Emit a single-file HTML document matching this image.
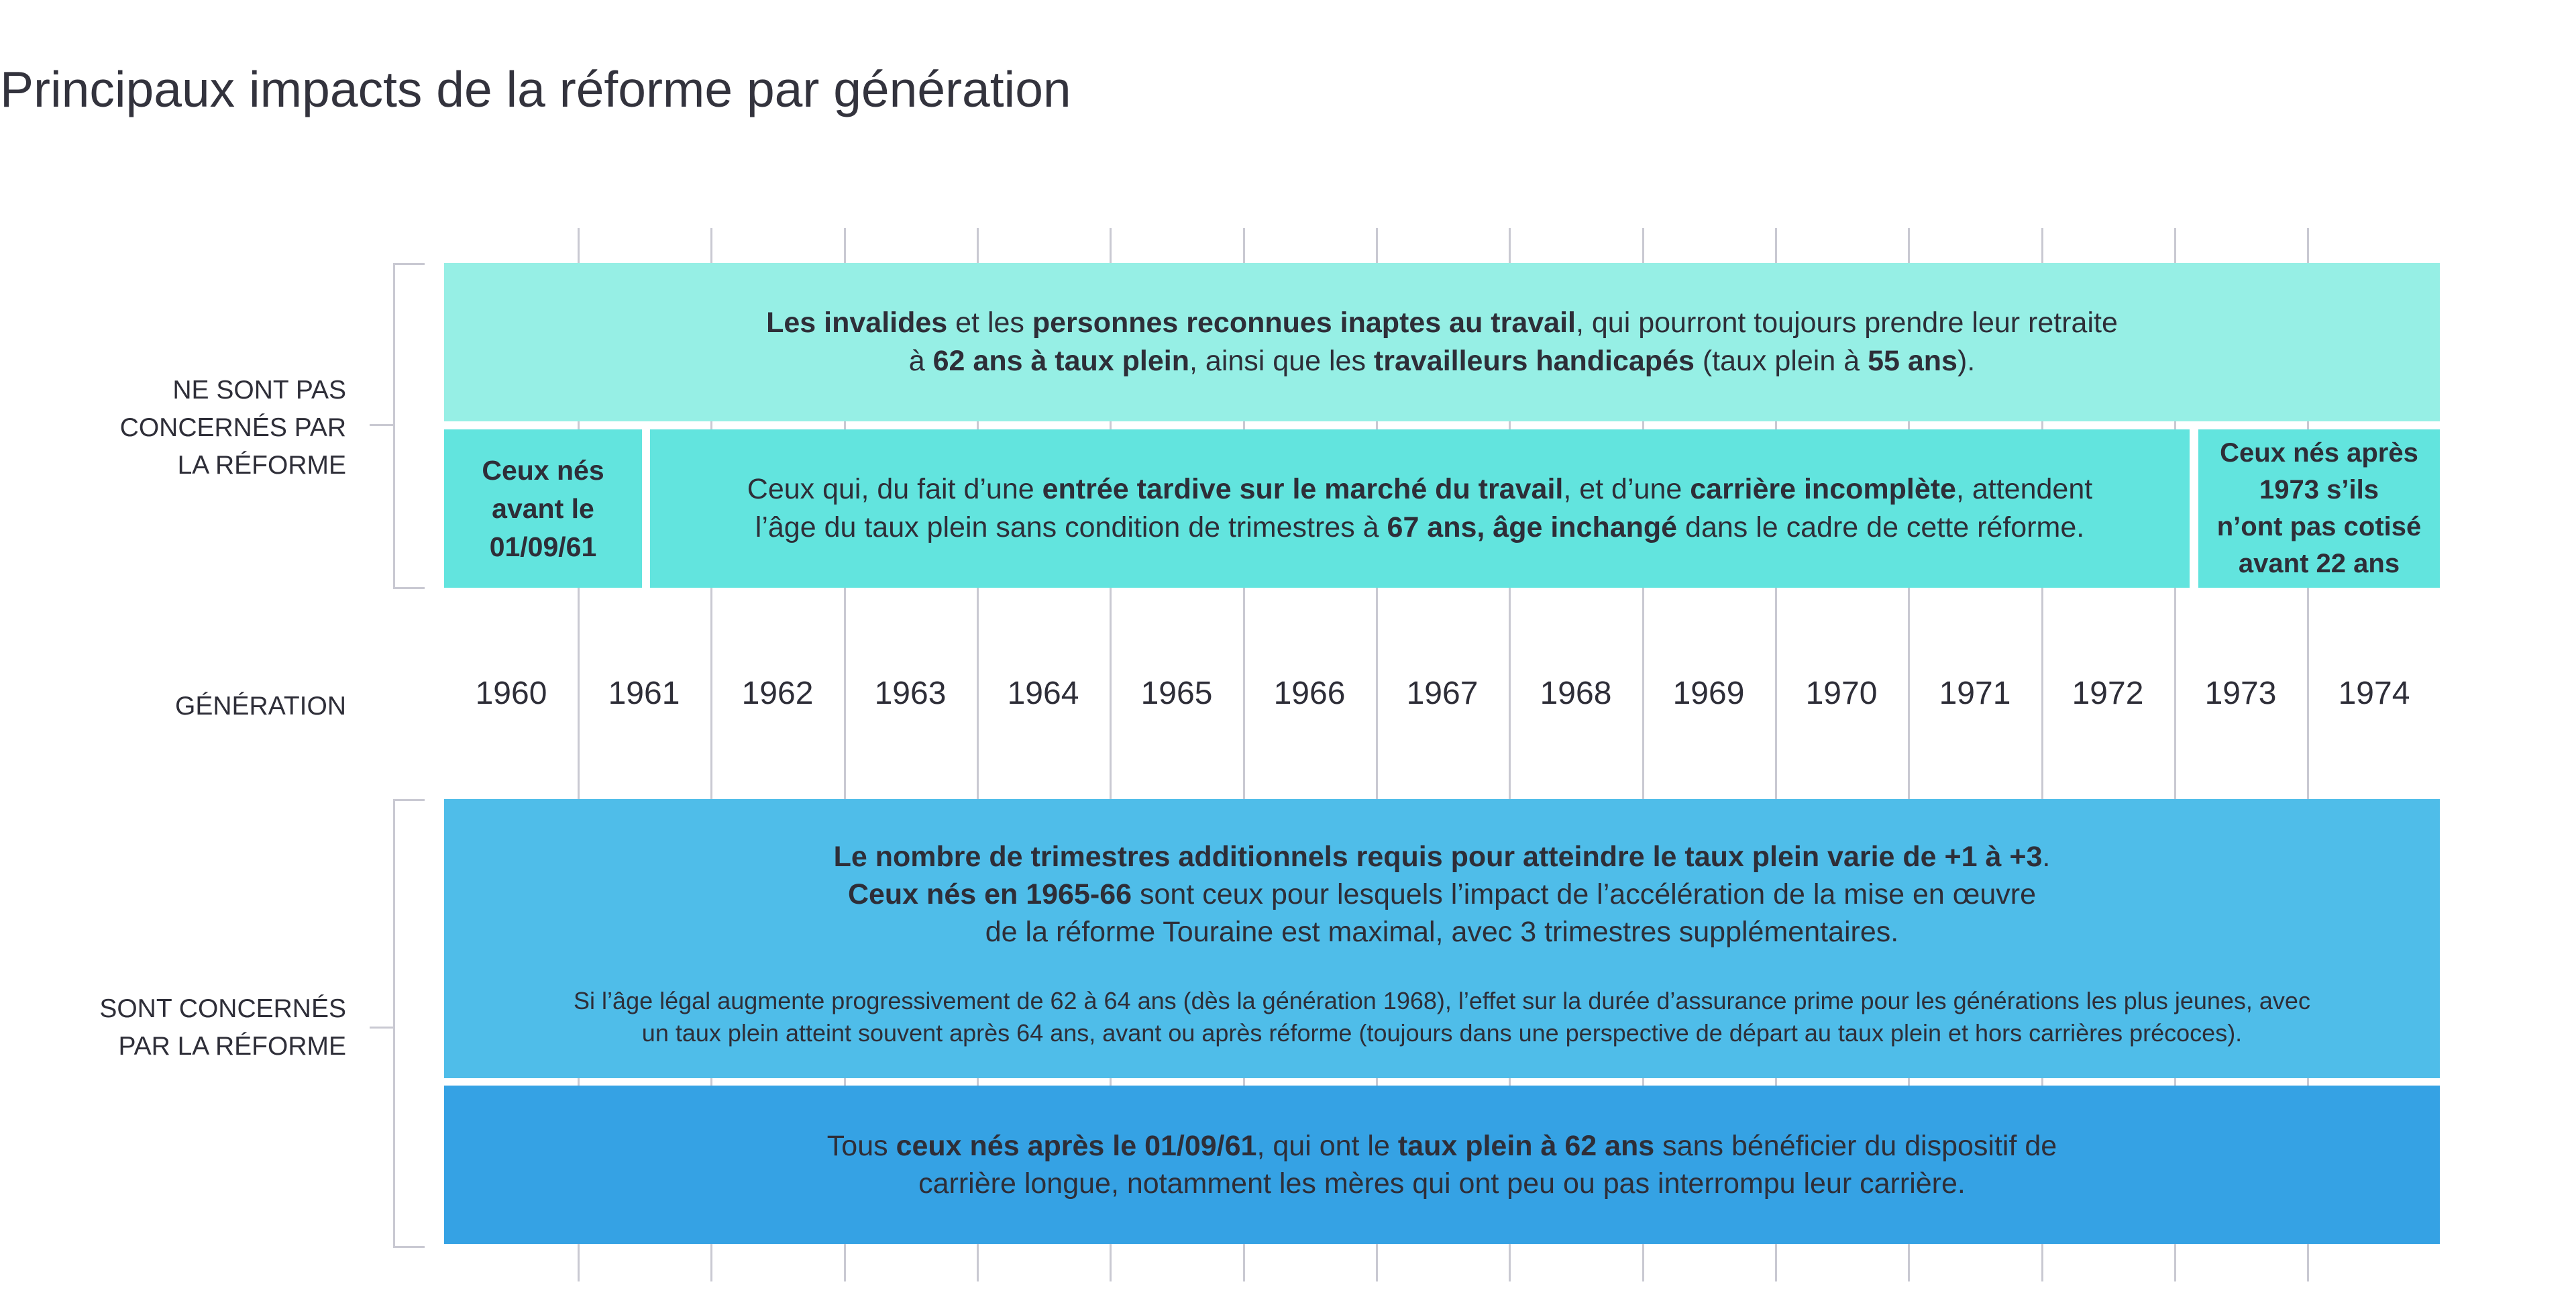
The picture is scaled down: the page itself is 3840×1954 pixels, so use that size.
<!DOCTYPE html>
<html><head><meta charset="utf-8"><style>
body{margin:0;width:3840px;height:1954px;background:#fff;position:relative;overflow:hidden;font-family:"Liberation Sans",sans-serif;color:#2e2e38}
.a{position:absolute}
.g{position:absolute;width:3px;background:#c9c9d2;top:340px;height:1570px}
.box{position:absolute;display:flex;align-items:center;justify-content:center;text-align:center;box-sizing:border-box}
.lbl{position:absolute;right:3324px;text-align:right;font-size:39px;line-height:56px;white-space:nowrap}
.yr{position:absolute;top:1006px;width:198px;text-align:center;font-size:48px}
b{font-weight:bold}
</style></head><body>
<div class="a" style="left:0;top:90px;font-size:75px;white-space:nowrap;color:#33333d">Principaux impacts de la réforme par génération</div>

<div class="g" style="left:861px"></div><div class="g" style="left:1059px"></div><div class="g" style="left:1258px"></div><div class="g" style="left:1456px"></div><div class="g" style="left:1654px"></div><div class="g" style="left:1853px"></div><div class="g" style="left:2051px"></div><div class="g" style="left:2249px"></div><div class="g" style="left:2448px"></div><div class="g" style="left:2646px"></div><div class="g" style="left:2844px"></div><div class="g" style="left:3043px"></div><div class="g" style="left:3241px"></div><div class="g" style="left:3439px"></div>

<div class="a" style="left:586px;top:392px;width:44px;height:480px;border:3px solid #c9c9d2;border-right:none"></div>
<div class="a" style="left:551px;top:632px;width:36px;height:3px;background:#c9c9d2"></div>
<div class="a" style="left:586px;top:1191px;width:44px;height:663px;border:3px solid #c9c9d2;border-right:none"></div>
<div class="a" style="left:551px;top:1530px;width:36px;height:3px;background:#c9c9d2"></div>

<div class="lbl" style="top:554px">NE SONT PAS<br>CONCERNÉS PAR<br>LA RÉFORME</div>
<div class="lbl" style="top:1025px">GÉNÉRATION</div>
<div class="lbl" style="top:1476px">SONT CONCERNÉS<br>PAR LA RÉFORME</div>

<div class="box" style="left:662px;top:392px;width:2975px;height:236px;background:#96efe5;font-size:43px;line-height:57px">
<div>
<b>Les invalides</b> et les <b>personnes reconnues inaptes au travail</b>, qui pourront toujours prendre leur retraite<br>à <b>62 ans à taux plein</b>, ainsi que les <b>travailleurs handicapés</b> (taux plein à <b>55 ans</b>).</div></div>

<div class="box" style="left:662px;top:640px;width:295px;height:236px;background:#62e4de;font-size:41px;line-height:57px;font-weight:bold"><div>Ceux nés<br>avant le<br>01/09/61</div></div>
<div class="box" style="left:969px;top:640px;width:2295px;height:236px;background:#62e4de;font-size:43px;line-height:57px"><div>Ceux qui, du fait d’une <b>entrée tardive sur le marché du travail</b>, et d’une <b>carrière incomplète</b>, attendent<br>l’âge du taux plein sans condition de trimestres à <b>67 ans, âge inchangé</b> dans le cadre de cette réforme.</div></div>
<div class="box" style="left:3277px;top:640px;width:360px;height:236px;background:#62e4de;font-size:40px;line-height:55px;font-weight:bold"><div>Ceux nés après<br>1973 s’ils<br>n’ont pas cotisé<br>avant 22 ans</div></div>

<div class="yr" style="left:663px">1960</div><div class="yr" style="left:861px">1961</div><div class="yr" style="left:1060px">1962</div><div class="yr" style="left:1258px">1963</div><div class="yr" style="left:1456px">1964</div><div class="yr" style="left:1655px">1965</div><div class="yr" style="left:1853px">1966</div><div class="yr" style="left:2051px">1967</div><div class="yr" style="left:2250px">1968</div><div class="yr" style="left:2448px">1969</div><div class="yr" style="left:2646px">1970</div><div class="yr" style="left:2845px">1971</div><div class="yr" style="left:3043px">1972</div><div class="yr" style="left:3241px">1973</div><div class="yr" style="left:3440px">1974</div>

<div class="box" style="left:662px;top:1191px;width:2975px;height:416px;background:#4fbde9;font-size:43px;line-height:56px;align-items:flex-start;padding-top:58px"><div>
<b>Le nombre de trimestres additionnels requis pour atteindre le taux plein varie de +1 à +3</b>.<br><b>Ceux nés en 1965-66</b> sont ceux pour lesquels l’impact de l’accélération de la mise en œuvre<br>de la réforme Touraine est maximal, avec 3 trimestres supplémentaires.
<div style="font-size:36px;line-height:48px;margin-top:51px;white-space:nowrap">Si l’âge légal augmente progressivement de 62 à 64 ans (dès la génération 1968), l’effet sur la durée d’assurance prime pour les générations les plus jeunes, avec<br>un taux plein atteint souvent après 64 ans, avant ou après réforme (toujours dans une perspective de départ au taux plein et hors carrières précoces).</div></div></div>

<div class="box" style="left:662px;top:1618px;width:2975px;height:236px;background:#35a2e4;font-size:43px;line-height:56px"><div>Tous <b>ceux nés après le 01/09/61</b>, qui ont le <b>taux plein à 62 ans</b> sans bénéficier du dispositif de<br>carrière longue, notamment les mères qui ont peu ou pas interrompu leur carrière.</div></div>
</body></html>
